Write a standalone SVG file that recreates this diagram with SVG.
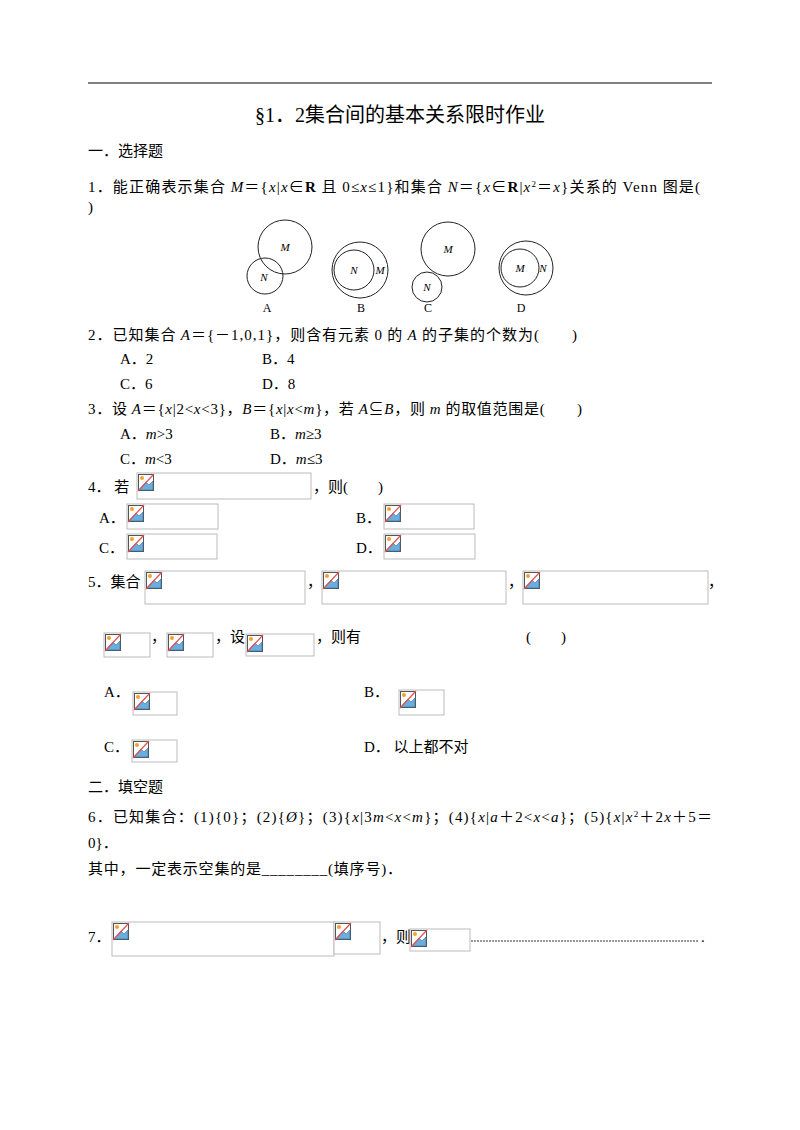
<svg xmlns="http://www.w3.org/2000/svg" xmlns:xlink="http://www.w3.org/1999/xlink" width="800" height="1130" viewBox="0 0 800 1130">
<style>
text{font-family:"Liberation Serif","Noto Sans CJK SC",serif;font-size:15px;fill:#000}
.c{font-family:"Noto Sans CJK SC",sans-serif}
.i{font-style:italic}
.b{font-weight:bold}
.box{fill:#fff;stroke:#bbb;stroke-width:1}
.v{fill:none;stroke:#222;stroke-width:1}
.vl{font-size:11px;font-style:italic}
</style>
<defs>
<g id="ic">
<rect x="0.5" y="0.5" width="15" height="16" fill="#fff" stroke="#555"/>
<path d="M1 16 L8 8 L11 11 L15 7 L15 16 Z" fill="#6aaee0" stroke="#3a6e9a" stroke-width="0.6"/>
<circle cx="4" cy="4" r="2" fill="#f5a030"/>
<line x1="0" y1="17" x2="16" y2="0" stroke="#e05050" stroke-width="1.2"/>
</g>
</defs>
<rect width="800" height="1130" fill="#fff"/>
<line x1="88" y1="83" x2="712" y2="83" stroke="#000"/>
<text x="400" y="122" text-anchor="middle" style="font-size:20px">§1．2集合间的基本关系限时作业</text>
<text x="88" y="156" class="c">一．选择题</text>
<text x="88" y="192" textLength="612" lengthAdjust="spacing">1．<tspan class="c">能正确表示集合 </tspan><tspan class="i">M</tspan>＝{<tspan class="i">x</tspan>|<tspan class="i">x</tspan>∈<tspan class="b">R</tspan><tspan class="c"> 且 </tspan>0≤<tspan class="i">x</tspan>≤1}<tspan class="c">和集合 </tspan><tspan class="i">N</tspan>＝{<tspan class="i">x</tspan>∈<tspan class="b">R</tspan>|<tspan class="i">x</tspan><tspan dy="-5" style="font-size:9px">2</tspan><tspan dy="5">＝</tspan><tspan class="i">x</tspan>}<tspan class="c">关系的 </tspan>Venn<tspan class="c"> 图是</tspan>(</text>
<text x="88" y="212">)</text>
<g id="venn">
<circle class="v" cx="285" cy="247" r="27"/><circle class="v" cx="265" cy="276" r="18"/>
<text x="285" y="251" class="vl" text-anchor="middle">M</text><text x="264" y="281" class="vl" text-anchor="middle">N</text>
<text x="267" y="312" text-anchor="middle" style="font-size:12px">A</text>
<circle class="v" cx="360" cy="270" r="28"/><circle class="v" cx="354" cy="270" r="20"/>
<text x="354" y="274" class="vl" text-anchor="middle">N</text><text x="380" y="274" class="vl" text-anchor="middle">M</text>
<text x="361" y="312" text-anchor="middle" style="font-size:12px">B</text>
<circle class="v" cx="448" cy="249" r="27"/><circle class="v" cx="427" cy="287" r="15"/>
<text x="448" y="253" class="vl" text-anchor="middle">M</text><text x="427" y="291" class="vl" text-anchor="middle">N</text>
<text x="428" y="312" text-anchor="middle" style="font-size:12px">C</text>
<circle class="v" cx="526" cy="268" r="27"/><circle class="v" cx="520" cy="268" r="19"/>
<text x="520" y="272" class="vl" text-anchor="middle">M</text><text x="543" y="272" class="vl" text-anchor="middle">N</text>
<text x="521" y="312" text-anchor="middle" style="font-size:12px">D</text>
</g>
<text x="88" y="340" textLength="489" lengthAdjust="spacing">2．<tspan class="c">已知集合 </tspan><tspan class="i">A</tspan>＝{－1,0,1}<tspan class="c">，则含有元素 </tspan>0<tspan class="c"> 的 </tspan><tspan class="i">A</tspan><tspan class="c"> 的子集的个数为</tspan>(　　)</text>
<text x="120" y="364">A．2</text><text x="262" y="364">B．4</text>
<text x="120" y="389">C．6</text><text x="262" y="389">D．8</text>
<text x="88" y="414" textLength="494" lengthAdjust="spacing">3．<tspan class="c">设 </tspan><tspan class="i">A</tspan>＝{<tspan class="i">x</tspan>|2&lt;<tspan class="i">x</tspan>&lt;3}，<tspan class="i">B</tspan>＝{<tspan class="i">x</tspan>|<tspan class="i">x</tspan>&lt;<tspan class="i">m</tspan>}<tspan class="c">，若 </tspan><tspan class="i">A</tspan>⊆<tspan class="i">B</tspan><tspan class="c">，则 </tspan><tspan class="i">m</tspan><tspan class="c"> 的取值范围是</tspan>(　　)</text>
<text x="120" y="439">A．<tspan class="i">m</tspan>&gt;3</text><text x="270" y="439">B．<tspan class="i">m</tspan>≥3</text>
<text x="120" y="464">C．<tspan class="i">m</tspan>&lt;3</text><text x="270" y="464">D．<tspan class="i">m</tspan>≤3</text>
<text x="88" y="492">4．  <tspan class="c">若</tspan></text>
<g id="q4">
<rect class="box" x="137" y="473" width="174" height="26"/><use xlink:href="#ic" x="138" y="474"/>
<text x="313" y="492">，<tspan class="c">则</tspan>(　　)</text>
<text x="99" y="523">A．</text><rect class="box" x="127" y="504" width="91" height="25"/><use xlink:href="#ic" x="128" y="505"/>
<text x="356" y="523">B．</text><rect class="box" x="384" y="504" width="90" height="25"/><use xlink:href="#ic" x="385" y="505"/>
<text x="99" y="553">C．</text><rect class="box" x="127" y="534" width="90" height="25"/><use xlink:href="#ic" x="128" y="535"/>
<text x="356" y="553">D．</text><rect class="box" x="384" y="534" width="91" height="25"/><use xlink:href="#ic" x="385" y="535"/>
</g>
<g id="q5">
<text x="88" y="587">5．<tspan class="c">集合</tspan></text>
<rect class="box" x="145" y="571" width="160" height="33"/><use xlink:href="#ic" x="146" y="572"/>
<text x="307" y="587">，</text>
<rect class="box" x="322" y="571" width="184" height="33"/><use xlink:href="#ic" x="323" y="572"/>
<text x="508" y="587">，</text>
<rect class="box" x="523" y="571" width="185" height="33"/><use xlink:href="#ic" x="524" y="572"/>
<text x="708" y="587">，</text>
<rect class="box" x="104" y="633" width="46" height="24"/><use xlink:href="#ic" x="105" y="634"/>
<text x="151" y="642">，</text>
<rect class="box" x="167" y="633" width="46" height="24"/><use xlink:href="#ic" x="168" y="634"/>
<text x="215" y="642">，<tspan class="c">设</tspan></text>
<rect class="box" x="246" y="634" width="68" height="22"/><use xlink:href="#ic" x="247" y="635"/>
<text x="316" y="642">，<tspan class="c">则有</tspan></text>
<text x="526" y="642">(　　)</text>
<text x="104" y="697">A．</text><rect class="box" x="133" y="692" width="44" height="23"/><use xlink:href="#ic" x="134" y="693"/>
<text x="364" y="697">B．</text><rect class="box" x="399" y="690" width="45" height="25"/><use xlink:href="#ic" x="400" y="691"/>
<text x="104" y="752">C．</text><rect class="box" x="132" y="740" width="45" height="22"/><use xlink:href="#ic" x="133" y="741"/>
<text x="364" y="752">D．  <tspan class="c">以上都不对</tspan></text>
</g>
<text x="88" y="792" class="c">二．填空题</text>
<text x="88" y="822" textLength="624" lengthAdjust="spacing">6．<tspan class="c">已知集合：</tspan>(1){0}；(2){<tspan class="i">Ø</tspan>}；(3){<tspan class="i">x</tspan>|3<tspan class="i">m</tspan>&lt;<tspan class="i">x</tspan>&lt;<tspan class="i">m</tspan>}；(4){<tspan class="i">x</tspan>|<tspan class="i">a</tspan>＋2&lt;<tspan class="i">x</tspan>&lt;<tspan class="i">a</tspan>}；(5){<tspan class="i">x</tspan>|<tspan class="i">x</tspan><tspan dy="-5" style="font-size:9px">2</tspan><tspan dy="5">＋2</tspan><tspan class="i">x</tspan>＋5＝</text>
<text x="88" y="848">0}．</text>
<text x="88" y="874" textLength="314" lengthAdjust="spacing"><tspan class="c">其中，一定表示空集的是</tspan>________(<tspan class="c">填序号</tspan>)．</text>
<g id="q7">
<text x="88" y="942">7．</text>
<rect class="box" x="112" y="922" width="222" height="34"/><use xlink:href="#ic" x="113" y="923"/>
<rect class="box" x="334" y="922" width="46" height="32"/><use xlink:href="#ic" x="335" y="923"/>
<text x="381" y="942">，<tspan class="c">则</tspan></text>
<rect class="box" x="410" y="929" width="60" height="22"/><use xlink:href="#ic" x="411" y="930"/>
<line x1="471" y1="941" x2="698" y2="941" stroke="#333" stroke-dasharray="2,1"/>
<text x="701" y="942">.</text>
</g>
</svg>
